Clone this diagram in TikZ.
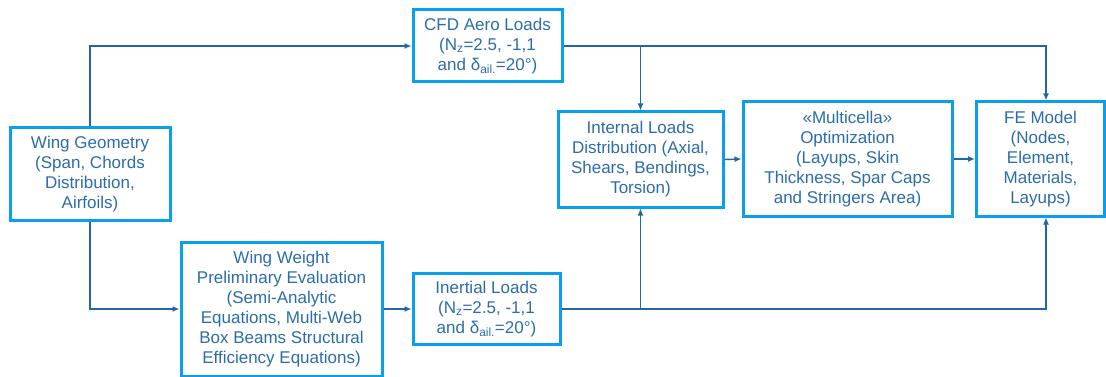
\documentclass[tikz,border=0pt]{standalone}
\usepackage{fontspec}
\setmainfont{Liberation Sans}
\usetikzlibrary{arrows.meta}
\definecolor{boxblue}{HTML}{0A9FEA}
\definecolor{linkblue}{HTML}{2166A6}
\definecolor{txtblue}{HTML}{2B6CAC}
\begin{document}
\begin{tikzpicture}[x=1pt,y=-1pt,
 box/.style={draw=boxblue, line width=3pt, rectangle, align=center, text=txtblue, inner sep=0pt, font=\fontsize{17}{20}\selectfont},
 link/.style={draw=linkblue, line width=1.4pt, -{Latex[length=7pt,width=6pt]}}]
\useasboundingbox (0,0) rectangle (1106,377);
\node[box, minimum width=160pt, minimum height=92pt] (geo) at (90,174) {Wing Geometry\\(Span, Chords\\Distribution,\\Airfoils)};
\node[box, minimum width=149pt, minimum height=72pt] (cfd) at (487.5,46) {CFD Aero Loads\\(N\textsubscript{z}=2.5, -1,1\\and δ\textsubscript{ail.}=20°)};
\node[box, minimum width=201pt, minimum height=134pt] (ww) at (281.5,309) {Wing Weight\\Preliminary Evaluation\\(Semi-Analytic\\Equations, Multi-Web\\Box Beams Structural\\Efficiency Equations)};
\node[box, minimum width=147pt, minimum height=71pt] (inr) at (486.5,309) {Inertial Loads\\(N\textsubscript{z}=2.5, -1,1\\and δ\textsubscript{ail.}=20°)};
\node[box, minimum width=165pt, minimum height=95pt] (ild) at (640.5,159.5) {Internal Loads\\Distribution (Axial,\\Shears, Bendings,\\Torsion)};
\node[box, minimum width=209pt, minimum height=114pt] (opt) at (847.5,159) {«Multicella»\\Optimization\\(Layups, Skin\\Thickness, Spar Caps\\and Stringers Area)};
\node[box, minimum width=128pt, minimum height=114pt] (fe) at (1040.5,159) {FE Model\\(Nodes,\\Element,\\Materials,\\Layups)};
\coordinate (fx) at (1046,0);
\draw[link] (geo.north) |- (cfd.west);
\draw[link] (geo.south) |- (ww.west);
\draw[link] (ww.east) -- (inr.west);
\draw[link] (cfd.east) -| (fx |- fe.north);
\draw[link] (cfd.east -| ild.north) -- (ild.north);
\draw[link] (inr.east) -| (fx |- fe.south);
\draw[link] (inr.east -| ild.south) -- (ild.south);
\draw[link] (ild.east) -- (opt.west);
\draw[link] (opt.east) -- (fe.west);
\end{tikzpicture}
\end{document}
